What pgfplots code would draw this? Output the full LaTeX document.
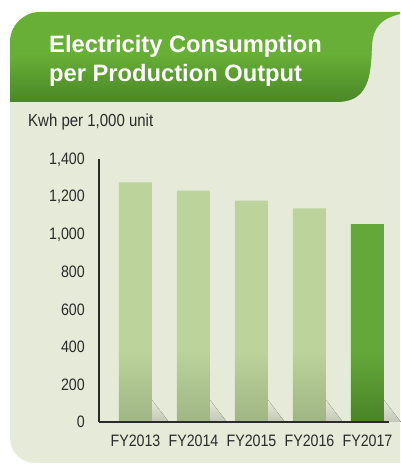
\documentclass[border=0pt]{standalone}
\usepackage{pgfplots}
\pgfplotsset{compat=1.18}
\usepackage{pgfplotstable}
\usepackage{fontspec}
\setmainfont{Liberation Sans}
\newfontfamily\narrow[FakeStretch=0.86]{Liberation Sans}
\definecolor{panelbg}{HTML}{E5EBD8}
\definecolor{hdrtop}{HTML}{68AF37}
\definecolor{hdrbot}{HTML}{4A8728}
\definecolor{bartop}{HTML}{BCD39B}
\definecolor{barbot}{HTML}{A0B584}
\definecolor{lasttop}{HTML}{64A73A}
\definecolor{lastbot}{HTML}{4A8428}
\definecolor{axcol}{HTML}{2B2B2B}
\definecolor{shadowc}{HTML}{C2C6B6}
\pgfdeclareverticalshading{barshade}{100bp}{color(0bp)=(barbot); color(25bp)=(barbot); color(40bp)=(bartop); color(100bp)=(bartop)}
\pgfdeclareverticalshading{lastshade}{100bp}{color(0bp)=(lastbot); color(25bp)=(lastbot); color(43bp)=(lasttop); color(100bp)=(lasttop)}

\pgfplotstableread{
x y
0 1277
1 1233
2 1180
3 1138
}\prevyears
\pgfplotstableread{
x y
4 1052
}\current

\begin{document}
\begin{tikzpicture}
\begin{scope}[x=1bp,y=1bp]
\path[use as bounding box] (0,0) rectangle (400,466);
\def\hdrpath{(10,364) -- (10,424) arc[start angle=180,end angle=90,radius=30] -- (400,454) -- (400,452) .. controls (380,447) and (373,438) .. (372,420) .. controls (371,400) and (370,390) .. (366,381) .. controls (360,368) and (350,364) .. (335,364) -- cycle}
\begin{scope}
\clip (0,0) rectangle (400,466);
\fill[panelbg] (10,424) -- (10,28) arc[start angle=180,end angle=270,radius=25] -- (405,3) -- (405,453) -- (40,453) -- cycle;
\fill[hdrtop] \hdrpath;
\begin{scope}
\clip \hdrpath;
\shade[top color=hdrtop, bottom color=hdrbot] (0,364) rectangle (400,412);
\end{scope}
\end{scope}
\node[anchor=base west, text=white, font=\bfseries\fontsize{23.8}{28}\selectfont, inner sep=0pt] at (49,413) {Electricity Consumption};
\node[anchor=base west, text=white, font=\bfseries\fontsize{23.8}{28}\selectfont, inner sep=0pt] at (49,384) {per Production Output};
\node[anchor=base west, text=axcol, font=\narrow\fontsize{17.5}{20}\selectfont, inner sep=0pt] at (28,339) {Kwh per 1,000 unit};
\end{scope}
\begin{axis}[
  at={(99bp,44bp)}, anchor=south west, scale only axis,
  width=290bp, height=262.7bp,
  xmin=-0.629, xmax=4.371, ymin=0, ymax=1400,
  axis lines*=left, axis on top, clip=false,
  axis line style={axcol, line width=1.1bp},
  major tick length=0pt,
  xtick={0,1,2,3,4},
  xticklabels={FY2013,FY2014,FY2015,FY2016,FY2017},
  ytick={0,200,...,1400},
  tick label style={font=\narrow\fontsize{16.6}{18}\selectfont, text=axcol, inner sep=0pt},
  yticklabel style={xshift=-14bp},
  xticklabel style={yshift=-13bp},
  /pgf/number format/1000 sep={,},
  /pgf/number format/assume math mode=true,
]
\fill[shading=axis, shading angle=-45, top color=panelbg, bottom color=shadowc] (axis cs:0.2845,0) -- (axis cs:0.2845,117) -- (axis cs:0.5745,0) -- cycle;
\fill[shading=axis, shading angle=-45, top color=panelbg, bottom color=shadowc] (axis cs:1.2845,0) -- (axis cs:1.2845,117) -- (axis cs:1.5745,0) -- cycle;
\fill[shading=axis, shading angle=-45, top color=panelbg, bottom color=shadowc] (axis cs:2.2845,0) -- (axis cs:2.2845,117) -- (axis cs:2.5745,0) -- cycle;
\fill[shading=axis, shading angle=-45, top color=panelbg, bottom color=shadowc] (axis cs:3.2845,0) -- (axis cs:3.2845,117) -- (axis cs:3.5745,0) -- cycle;
\fill[shading=axis, shading angle=-45, top color=panelbg, bottom color=shadowc] (axis cs:4.2845,0) -- (axis cs:4.2845,117) -- (axis cs:4.5745,0) -- cycle;
\addplot[ybar, bar width=0.569, bar shift=0pt, draw=none, shading=barshade] table[x=x,y=y] {\prevyears};
\addplot[ybar, bar width=0.569, bar shift=0pt, draw=none, shading=lastshade] table[x=x,y=y] {\current};
\end{axis}
\end{tikzpicture}
\end{document}
